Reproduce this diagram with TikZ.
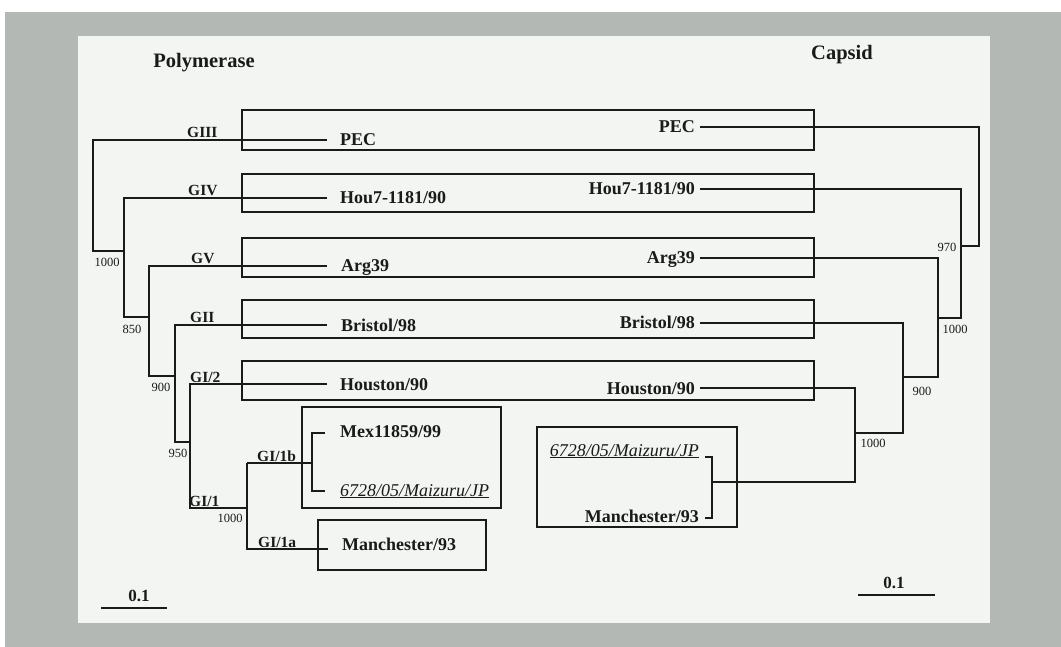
\documentclass[tikz,border=0pt]{standalone}
\usepackage{fontspec}
\setmainfont{Liberation Serif}
\definecolor{bggray}{RGB}{180,184,181}
\definecolor{panel}{RGB}{243,245,242}
\definecolor{ink}{RGB}{25,27,25}
\begin{document}
\begin{tikzpicture}[x=1pt,y=-1pt,
  branch/.style={draw=ink,line width=1.9pt,line join=miter},
  groupbox/.style={draw=ink,line width=2.1pt},
  leaf/.style={inner sep=0pt,text=ink,font=\fontsize{18}{20}\selectfont\bfseries},
  leafit/.style={inner sep=0pt,text=ink,font=\fontsize{18}{20}\selectfont\itshape},
  clade/.style={inner sep=0pt,anchor=base west,text=ink,font=\fontsize{15.5}{17}\selectfont\bfseries},
  boot/.style={inner sep=0pt,text=ink,font=\fontsize{12.5}{14}\selectfont},
  scalelbl/.style={inner sep=0pt,text=ink,font=\fontsize{17}{19}\selectfont\bfseries},
  ttl/.style={inner sep=0pt,text=ink,font=\fontsize{20.5}{23}\selectfont\bfseries}]
\useasboundingbox (0,0) rectangle (1061,647);
\fill[white] (0,0) rectangle (1061,647);
\fill[bggray] (5,12) rectangle (1061,647);
\fill[panel] (78,36) rectangle (990,623);

% titles
\node[ttl] (tPol) at (204,63) {Polymerase};
\node[ttl] (tCap) at (842,55) {Capsid};

% long boxes
\draw[groupbox] (242,110) rectangle (814,150);
\draw[groupbox] (242,174) rectangle (814,212);
\draw[groupbox] (242,238) rectangle (814,277);
\draw[groupbox] (242,300) rectangle (814,338);
\draw[groupbox] (242,361) rectangle (814,400);
% small boxes
\draw[groupbox] (302,407) rectangle (501,508);
\draw[groupbox] (318,520) rectangle (486,570);
\draw[groupbox] (537,427) rectangle (737,527);

% ---------- left tree (Polymerase) ----------
\node[leaf,anchor=base west] (lPEC) at (340,146) {PEC};
\node[leaf,anchor=base west] (lHou) at (340,204) {Hou7-1181/90};
\node[leaf,anchor=base west] (lArg) at (341,272) {Arg39};
\node[leaf,anchor=base west] (lBri) at (341,331) {Bristol/98};
\node[leaf,anchor=base west] (lHst) at (340,390) {Houston/90};
\node[leaf,anchor=base west] (lMex) at (340,437) {Mex11859/99};
\node[leafit,anchor=base west] (lMai) at (340,496) {\underline{6728/05/Maizuru/JP}};
\node[leaf,anchor=base west] (lMan) at (342,550) {Manchester/93};

\coordinate (ePEC) at (327,140);
\coordinate (eHou) at (327,198);
\coordinate (eArg) at (327,266);
\coordinate (eBri) at (327,325);
\coordinate (eHst) at (327,384);
\coordinate (eMex) at (325,433);
\coordinate (eMai) at (325,491);
\coordinate (eMan) at (328,549);

\coordinate (nA) at (93,251);
\coordinate (nB) at (124,317);
\coordinate (nC) at (149,376);
\coordinate (nD) at (175,442);
\coordinate (nE) at (190,508);
\coordinate (nF) at (247,463);
\coordinate (nG) at (312,463);

\draw[branch] (ePEC) -| (nA) -- (nA -| nB);
\draw[branch] (eHou) -| (nB) -- (nB -| nC);
\draw[branch] (eArg) -| (nC) -- (nC -| nD);
\draw[branch] (eBri) -| (nD) -- (nD -| nE);
\draw[branch] (eHst) -| (nE) -- (nE -| nF);
\draw[branch] (nF) -- (nG);
\draw[branch] (eMex) -| (nG) |- (eMai);
\draw[branch] (nF) |- (eMan);

\node[clade] (cGIII) at (187,138) {GIII};
\node[clade] (cGIV) at (188,196) {GIV};
\node[clade] (cGV) at (191,264) {GV};
\node[clade] (cGII) at (190,323) {GII};
\node[clade] (cGI2) at (190,382) {GI/2};
\node[clade] (cGI1) at (189,506) {GI/1};
\node[clade] (cGI1b) at (257,461) {GI/1b};
\node[clade] (cGI1a) at (258,547) {GI/1a};

\node[boot] (bA) at (107,262) {1000};
\node[boot] (bB) at (132,329) {850};
\node[boot] (bC) at (161,387) {900};
\node[boot] (bD) at (178,453) {950};
\node[boot] (bF) at (230,518) {1000};

% ---------- right tree (Capsid) ----------
\node[leaf,anchor=base east] (rPEC) at (695,133) {PEC};
\node[leaf,anchor=base east] (rHou) at (695,195) {Hou7-1181/90};
\node[leaf,anchor=base east] (rArg) at (695,264) {Arg39};
\node[leaf,anchor=base east] (rBri) at (695,329) {Bristol/98};
\node[leaf,anchor=base east] (rHst) at (695,394) {Houston/90};
\node[leafit,anchor=base east] (rMai) at (699,456) {\underline{6728/05/Maizuru/JP}};
\node[leaf,anchor=base east] (rMan) at (699,522) {Manchester/93};

\coordinate (fPEC) at (700,127);
\coordinate (fHou) at (700,189);
\coordinate (fArg) at (700,258);
\coordinate (fBri) at (700,323);
\coordinate (fHst) at (700,388);
\coordinate (fMai) at (705,457);
\coordinate (fMan) at (705,518);

\coordinate (mA) at (979,246);
\coordinate (mB) at (961,318);
\coordinate (mC) at (938,377);
\coordinate (mD) at (903,433);
\coordinate (mE) at (855,482);
\coordinate (mF) at (712,482);

\draw[branch] (fPEC) -| (mA) -- (mA -| mB);
\draw[branch] (fHou) -| (mB) -- (mB -| mC);
\draw[branch] (fArg) -| (mC) -- (mC -| mD);
\draw[branch] (fBri) -| (mD) -- (mD -| mE);
\draw[branch] (fHst) -| (mE) -- (mF);
\draw[branch] (fMai) -| (mF) |- (fMan);

\node[boot] (rbA) at (947,247) {970};
\node[boot] (rbB) at (955,329) {1000};
\node[boot] (rbC) at (922,391) {900};
\node[boot] (rbD) at (873,443) {1000};

% scale bars
\node[scalelbl] (sL) at (139,596) {0.1};
\coordinate (sL1) at (101,608);
\coordinate (sL2) at (167,608);
\draw[branch] (sL1) -- (sL2);
\node[scalelbl] (sR) at (894,583) {0.1};
\coordinate (sR1) at (858,595);
\coordinate (sR2) at (935,595);
\draw[branch] (sR1) -- (sR2);
\end{tikzpicture}
\end{document}
